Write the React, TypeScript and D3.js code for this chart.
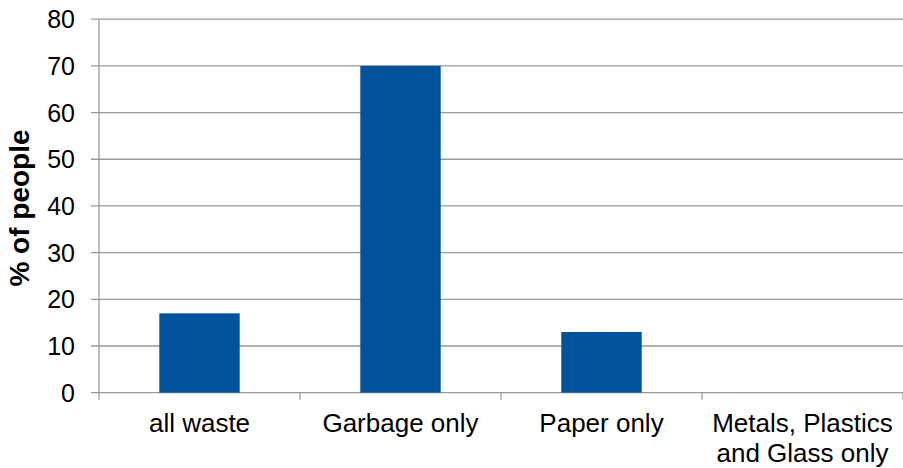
import React from "react";
import * as d3 from "d3";

const categories = ["all waste", "Garbage only", "Paper only", "Metals, Plastics\nand Glass only"];
const values = [17, 70, 13, 0];
const yTicks = [0, 10, 20, 30, 40, 50, 60, 70, 80];

const W = 903;
const H = 468;
const left = 99;
const right = 903;
const top = 19.2;
const bottom = 392.7;

export default function App() {
  const x = d3.scaleBand<string>().domain(categories).range([left, right]).paddingInner(0.6).paddingOuter(0.3);
  const y = d3.scaleLinear().domain([0, 80]).range([bottom, top]);
  const step = x.step();
  const font = "'Liberation Sans', Arial, sans-serif";
  const grid = "#999999";
  return (
    <svg width={W} height={H} style={{ position: "absolute", left: 0, top: 0, background: "#fff" }} fontFamily={font}>
      {yTicks.map((t) => (
        <g key={t}>
          <line x1={91} x2={right} y1={y(t)} y2={y(t)} stroke={grid} strokeWidth={1.3} />
          <text x={75} y={y(t)} dy="0.36em" textAnchor="end" fontSize={25} fill="#000">
            {t}
          </text>
        </g>
      ))}
      <line x1={left} x2={left} y1={top} y2={bottom + 7} stroke={grid} strokeWidth={1.3} />
      {categories.map((c, i) => (
        <line key={c} x1={left + step * (i + 1)} x2={left + step * (i + 1)} y1={bottom} y2={bottom + 7} stroke={grid} strokeWidth={1.3} />
      ))}
      {categories.map((c, i) => (
        <rect
          key={c}
          x={x(c)}
          y={y(values[i])}
          width={x.bandwidth()}
          height={bottom - y(values[i])}
          fill="#00529b"
        />
      ))}
      {categories.map((c) => {
        const lines = c.split("\n");
        const cx = (x(c) as number) + x.bandwidth() / 2;
        return (
          <text key={c} x={cx} y={432} textAnchor="middle" fontSize={26} fill="#000">
            {lines.map((l, j) => (
              <tspan key={j} x={cx} dy={j === 0 ? 0 : 30}>
                {l}
              </tspan>
            ))}
          </text>
        );
      })}
      <text
        transform={`translate(29, 208) rotate(-90)`}
        textAnchor="middle"
        fontSize={28}
        fontWeight="bold"
        fill="#000"
      >
        % of people
      </text>
    </svg>
  );
}
